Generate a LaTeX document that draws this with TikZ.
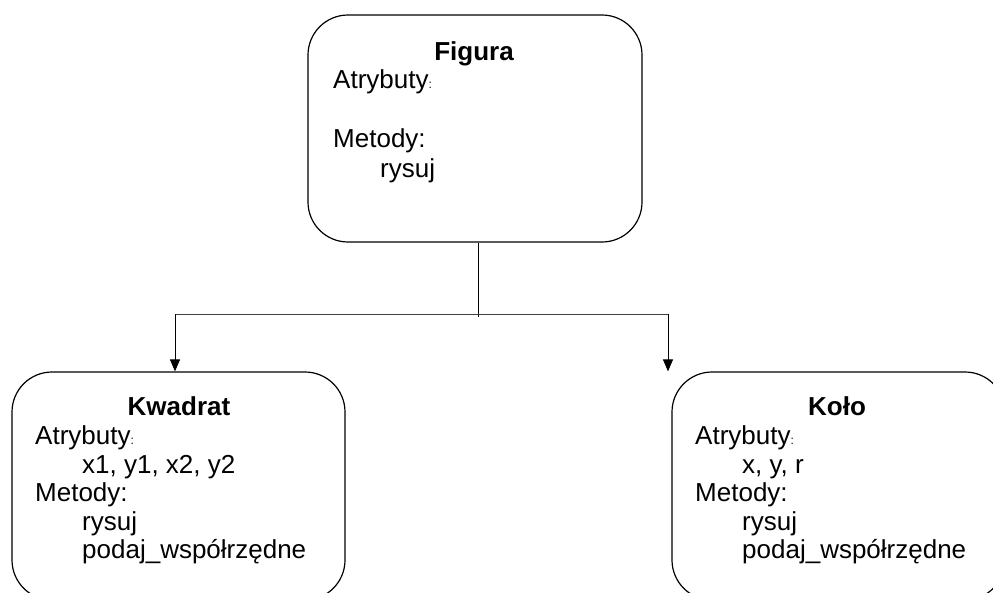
\documentclass[tikz,border=0pt]{standalone}
\usepackage{fontspec}
\setmainfont{Liberation Sans}
\usetikzlibrary{arrows.meta}
\begin{document}
\begin{tikzpicture}[x=1pt,y=1pt,
  classbox/.style={draw=black, line width=1.2pt, rounded corners=40pt,
    minimum width=#1, minimum height=228pt, inner sep=0pt},
  title/.style={anchor=base, inner sep=0pt, font=\fontsize{26}{28}\selectfont\bfseries},
  txt/.style={anchor=base west, inner sep=0pt, font=\fontsize{26}{28}\selectfont},
  link/.style={draw=black, line width=1pt},
  arr/.style={link, -{Triangle[width=10pt,length=12pt]}}]
\newcommand{\smallcolon}{{\fontsize{12}{12}\selectfont:}}
\useasboundingbox (0,0) rectangle (993,-592);
\clip (0,0) rectangle (993,-592);

% base class
\node[classbox=334pt, minimum height=227pt] (fig) at (475,-128.5) {};
\node[title] (figT) at (474,-60) {Figura};
\node[txt] (figA) at (333,-88) {Atrybuty\smallcolon};
\node[txt] (figM) at (333,-147) {Metody:};
\node[txt] (figM1) at (380,-177) {rysuj};

% derived class: Kwadrat
\node[classbox=333pt] (kw) at (178.5,-486) {};
\node[title] (kwT) at (179,-415) {Kwadrat};
\node[txt] (kwA) at (35,-444) {Atrybuty\smallcolon};
\node[txt] (kwA1) at (82,-473) {x1, y1, x2, y2};
\node[txt] (kwM) at (35,-501) {Metody:};
\node[txt] (kwM1) at (82,-530) {rysuj};
\node[txt] (kwM2) at (82,-558) {podaj\_współrzędne};

% derived class: Koło
\node[classbox=333pt] (ko) at (838.5,-486) {};
\node[title] (koT) at (837,-415) {Koło};
\node[txt] (koA) at (695,-444) {Atrybuty\smallcolon};
\node[txt] (koA1) at (742,-473) {x, y, r};
\node[txt] (koM) at (695,-501) {Metody:};
\node[txt] (koM1) at (742,-530) {rysuj};
\node[txt] (koM2) at (742,-558) {podaj\_współrzędne};

% inheritance connectors
\coordinate (split) at (478,-317);
\coordinate (lt) at (175,-314);
\coordinate (rt) at (668,-314);
\draw[link] (split |- fig.south) -- (split);
\draw[link, draw=black!75] (lt) -- (rt);
\draw[arr] (lt) -- (lt |- kw.north);
\draw[arr] (rt) -- (rt |- ko.north);
\end{tikzpicture}
\end{document}
